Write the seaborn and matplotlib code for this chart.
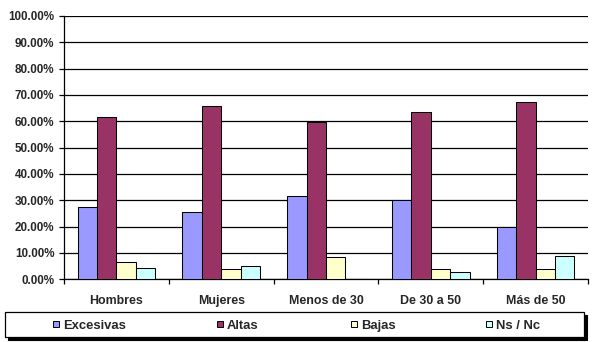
import matplotlib
matplotlib.use("Agg")
import matplotlib.pyplot as plt
import seaborn as sns
import pandas as pd
from matplotlib.patches import Rectangle
from matplotlib.ticker import PercentFormatter, FixedLocator

categories = ["Hombres", "Mujeres", "Menos de 30", "De 30 a 50", "Más de 50"]
series = ["Excesivas", "Altas", "Bajas", "Ns / Nc"]
excesivas = [27.3, 25.4, 31.8, 30.0, 19.7]
altas = [61.8, 65.7, 59.6, 63.4, 67.2]
bajas = [6.5, 3.8, 8.4, 3.8, 3.8]
nsnc = [4.2, 4.9, 0.0, 2.7, 8.7]
colors = ["#9999FF", "#993366", "#FFFFCC", "#CCFFFF"]

rows = []
for s, vals in zip(series, [excesivas, altas, bajas, nsnc]):
    for c, v in zip(categories, vals):
        rows.append({"cat": c, "serie": s, "val": v})
df = pd.DataFrame(rows)

sns.set_style("white")
plt.rcParams["font.family"] = ["Liberation Sans", "DejaVu Sans"]
plt.rcParams["font.weight"] = "bold"

fig = plt.figure(figsize=(5.93, 3.42), dpi=100)
W, H = 593, 342
ax = fig.add_axes([64 / W, 1 - 279.3 / H, (588 - 64) / W, (279.3 - 16) / H])

sns.barplot(data=df, x="cat", y="val", hue="serie", order=categories,
            hue_order=series, palette=colors, width=0.74, edgecolor="black",
            linewidth=0.75, legend=False, ax=ax, saturation=1, zorder=3)

ax.set_ylim(0, 100)
ax.set_xlim(-0.5, len(categories) - 0.5)
ax.set_yticks(range(0, 101, 10))
ax.yaxis.set_major_formatter(PercentFormatter(decimals=2))
ax.yaxis.grid(True, color="black", linewidth=0.9, zorder=0)
ax.set_axisbelow(True)
for sp in ["top", "right"]:
    ax.spines[sp].set_visible(False)
for sp in ["left", "bottom"]:
    ax.spines[sp].set_color("black")
    ax.spines[sp].set_linewidth(0.9)
ax.set_xlabel("")
ax.set_ylabel("")
ax.tick_params(axis="y", which="major", direction="out", length=3.5, width=0.9,
               color="black", pad=3.5, labelsize=8.4, left=True)
ax.tick_params(axis="x", which="major", length=0, pad=11, labelsize=8.9)
ax.xaxis.set_minor_locator(FixedLocator([i - 0.5 for i in range(len(categories) + 1)]))
ax.tick_params(axis="x", which="minor", direction="out", length=3.5, width=0.9,
               color="black", bottom=True)
for lbl in ax.get_xticklabels() + ax.get_yticklabels():
    lbl.set_fontweight("bold")

# legend frame with shadow
fx0, fx1 = 5 / W, 584 / W
fy0, fy1 = 1 - 337 / H, 1 - 312 / H
shadow = Rectangle((fx0 + 2.5 / W, fy0 - 2.5 / H), fx1 - fx0, fy1 - fy0,
                   transform=fig.transFigure, facecolor="black", edgecolor="black",
                   linewidth=0.8, zorder=1)
frame = Rectangle((fx0, fy0), fx1 - fx0, fy1 - fy0, transform=fig.transFigure,
                  facecolor="white", edgecolor="black", linewidth=0.9, zorder=2)
fig.patches.extend([shadow, frame])

# legend entries
sq_x = [52.7, 216.7, 351, 486]
sq_top, sq_bot = 321.3, 327.3
baseline = 328.6
for s, c, x in zip(series, colors, sq_x):
    sq = Rectangle((x / W, 1 - sq_bot / H), 6 / W, (sq_bot - sq_top) / H,
                   transform=fig.transFigure, facecolor=c, edgecolor="black",
                   linewidth=0.7, zorder=4)
    fig.patches.append(sq)
    fig.text((x + 10.3) / W, 1 - baseline / H, s, fontsize=9.4, fontweight="bold",
             va="baseline", ha="left", zorder=5)

fig.savefig("out.png", dpi=100)
